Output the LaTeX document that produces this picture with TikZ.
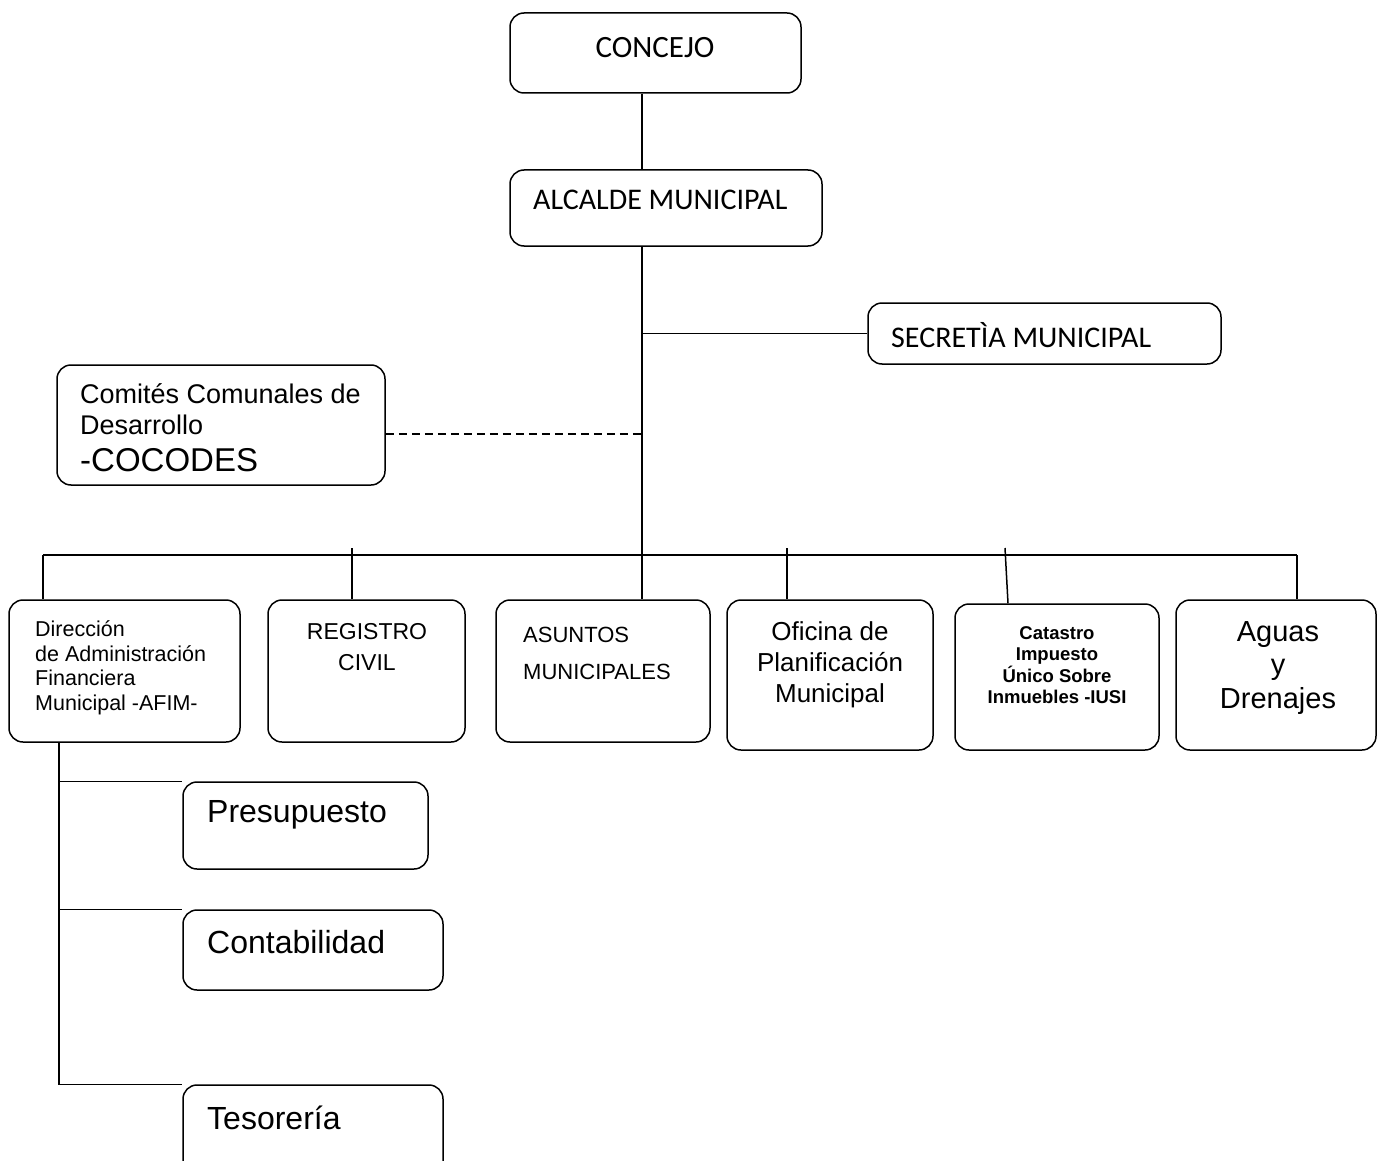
\documentclass[tikz,border=0pt]{standalone}
\usepackage{fontspec}
\setmainfont{Liberation Sans}
\newfontfamily\calibri{Carlito}
\tikzset{
  unit/.style={shape=rectangle,draw=black,rounded corners=14pt,line width=1.5pt,inner sep=0pt},
  txt/.style={inner sep=0pt},
  link/.style={line width=1.5pt},
}
\newcommand{\fs}[2]{\fontsize{#1}{#2}\selectfont}
\begin{document}
\begin{tikzpicture}[x=1pt,y=-1pt]
\useasboundingbox (0,0) rectangle (1378,1161);
\clip (0,0) rectangle (1378,1161);

\node[unit,minimum width=291,minimum height=80] (conc) at (655.5,53) {};
\node[unit,minimum width=312,minimum height=76] (alc) at (666,208) {};
\node[unit,minimum width=353,minimum height=61] (sec) at (1044.5,333.5) {};
\node[unit,minimum width=328,minimum height=120] (coc) at (221,425) {};
\node[unit,minimum width=231,minimum height=142] (afim) at (124.5,671) {};
\node[unit,minimum width=197,minimum height=142] (reg) at (366.5,671) {};
\node[unit,minimum width=214,minimum height=142] (asu) at (603,671) {};
\node[unit,minimum width=206,minimum height=150] (ofi) at (830,675) {};
\node[unit,minimum width=204,minimum height=146] (cat) at (1057,677) {};
\node[unit,minimum width=200,minimum height=150] (agu) at (1276,675) {};
\node[unit,minimum width=245,minimum height=87] (pres) at (305.5,825.5) {};
\node[unit,minimum width=260,minimum height=80] (cont) at (313,950) {};
\node[unit,minimum width=260,minimum height=90] (tes) at (313,1130) {};

\node[txt,font=\calibri\fs{31}{36}] (conc-t) at (655,48) {CONCEJO};
\node[txt,font=\calibri\fs{30}{36},anchor=west] (alc-t) at (533,200) {ALCALDE MUNICIPAL};
\node[txt,font=\calibri\fs{30}{36},anchor=west] (sec-t) at (891,335) {SECRETÌA MUNICIPAL};
\node[txt,align=left,anchor=west,font=\fs{27}{31}] (coc-t) at (80,428)
  {Comités Comunales de\\Desarrollo\\[6pt]{\fs{33}{36}-COCODES}};
\node[txt,align=left,anchor=west,font=\fs{21.5}{24.5}] (afim-t) at (35,668)
  {Dirección\\de Administración\\Financiera\\Municipal -AFIM-};
\node[txt,align=center,font=\fs{23}{31}] (reg-t) at (367,647) {REGISTRO\\CIVIL};
\node[txt,align=left,anchor=west,font=\fs{22}{37}] (asu-t) at (523,653.5) {ASUNTOS\\MUNICIPALES};
\node[txt,align=center,font=\fs{26}{31}] (ofi-t) at (830,665) {Oficina de\\Planificación\\Municipal};
\node[txt,align=center,font=\bfseries\fs{18.5}{21.3}] (cat-t) at (1057,665)
  {Catastro\\Impuesto\\Único Sobre\\Inmuebles -IUSI};
\node[txt,align=center,font=\fs{29}{33.5}] (agu-t) at (1278,668) {Aguas\\y\\Drenajes};
\node[txt,anchor=west,font=\fs{32}{36}] (pres-t) at (207,815) {Presupuesto};
\node[txt,anchor=west,font=\fs{32}{36}] (cont-t) at (207,942) {Contabilidad};
\node[txt,anchor=west,font=\fs{32}{36}] (tes-t) at (207,1118) {Tesorería};

\coordinate (bus) at (642,555);
\coordinate (dash) at (642,434);
\coordinate (d1) at (43,555);
\coordinate (d2) at (352,548);
\coordinate (d4) at (787,548);
\coordinate (d5) at (1005,548);
\coordinate (d6) at (1297,555);
\coordinate (sub) at (59,742);

\draw[link] (conc.south -| bus) -- (alc.north -| bus);
\draw[link] (alc.south -| bus) -- (asu.north -| bus);
\draw[link] (sec.west) -- (sec.west -| bus);
\draw[link,dash pattern=on 8pt off 5pt] (dash -| coc.east) -- (dash);
\draw[link] (d1) -- (d6);
\draw[link] (d1) -- (d1 |- afim.north);
\draw[link] (d2) -- (d2 |- reg.north);
\draw[link] (d4) -- (d4 |- ofi.north);
\draw[link] (d5) -- ([xshift=3pt]d5 |- cat.north);
\draw[link] (d6) -- (d6 |- agu.north);
\draw[link] (sub |- afim.south) |- (tes.north west);
\draw[link] (sub |- pres.north west) -- (pres.north west);
\draw[link] (sub |- cont.north west) -- (cont.north west);
\end{tikzpicture}
\end{document}
